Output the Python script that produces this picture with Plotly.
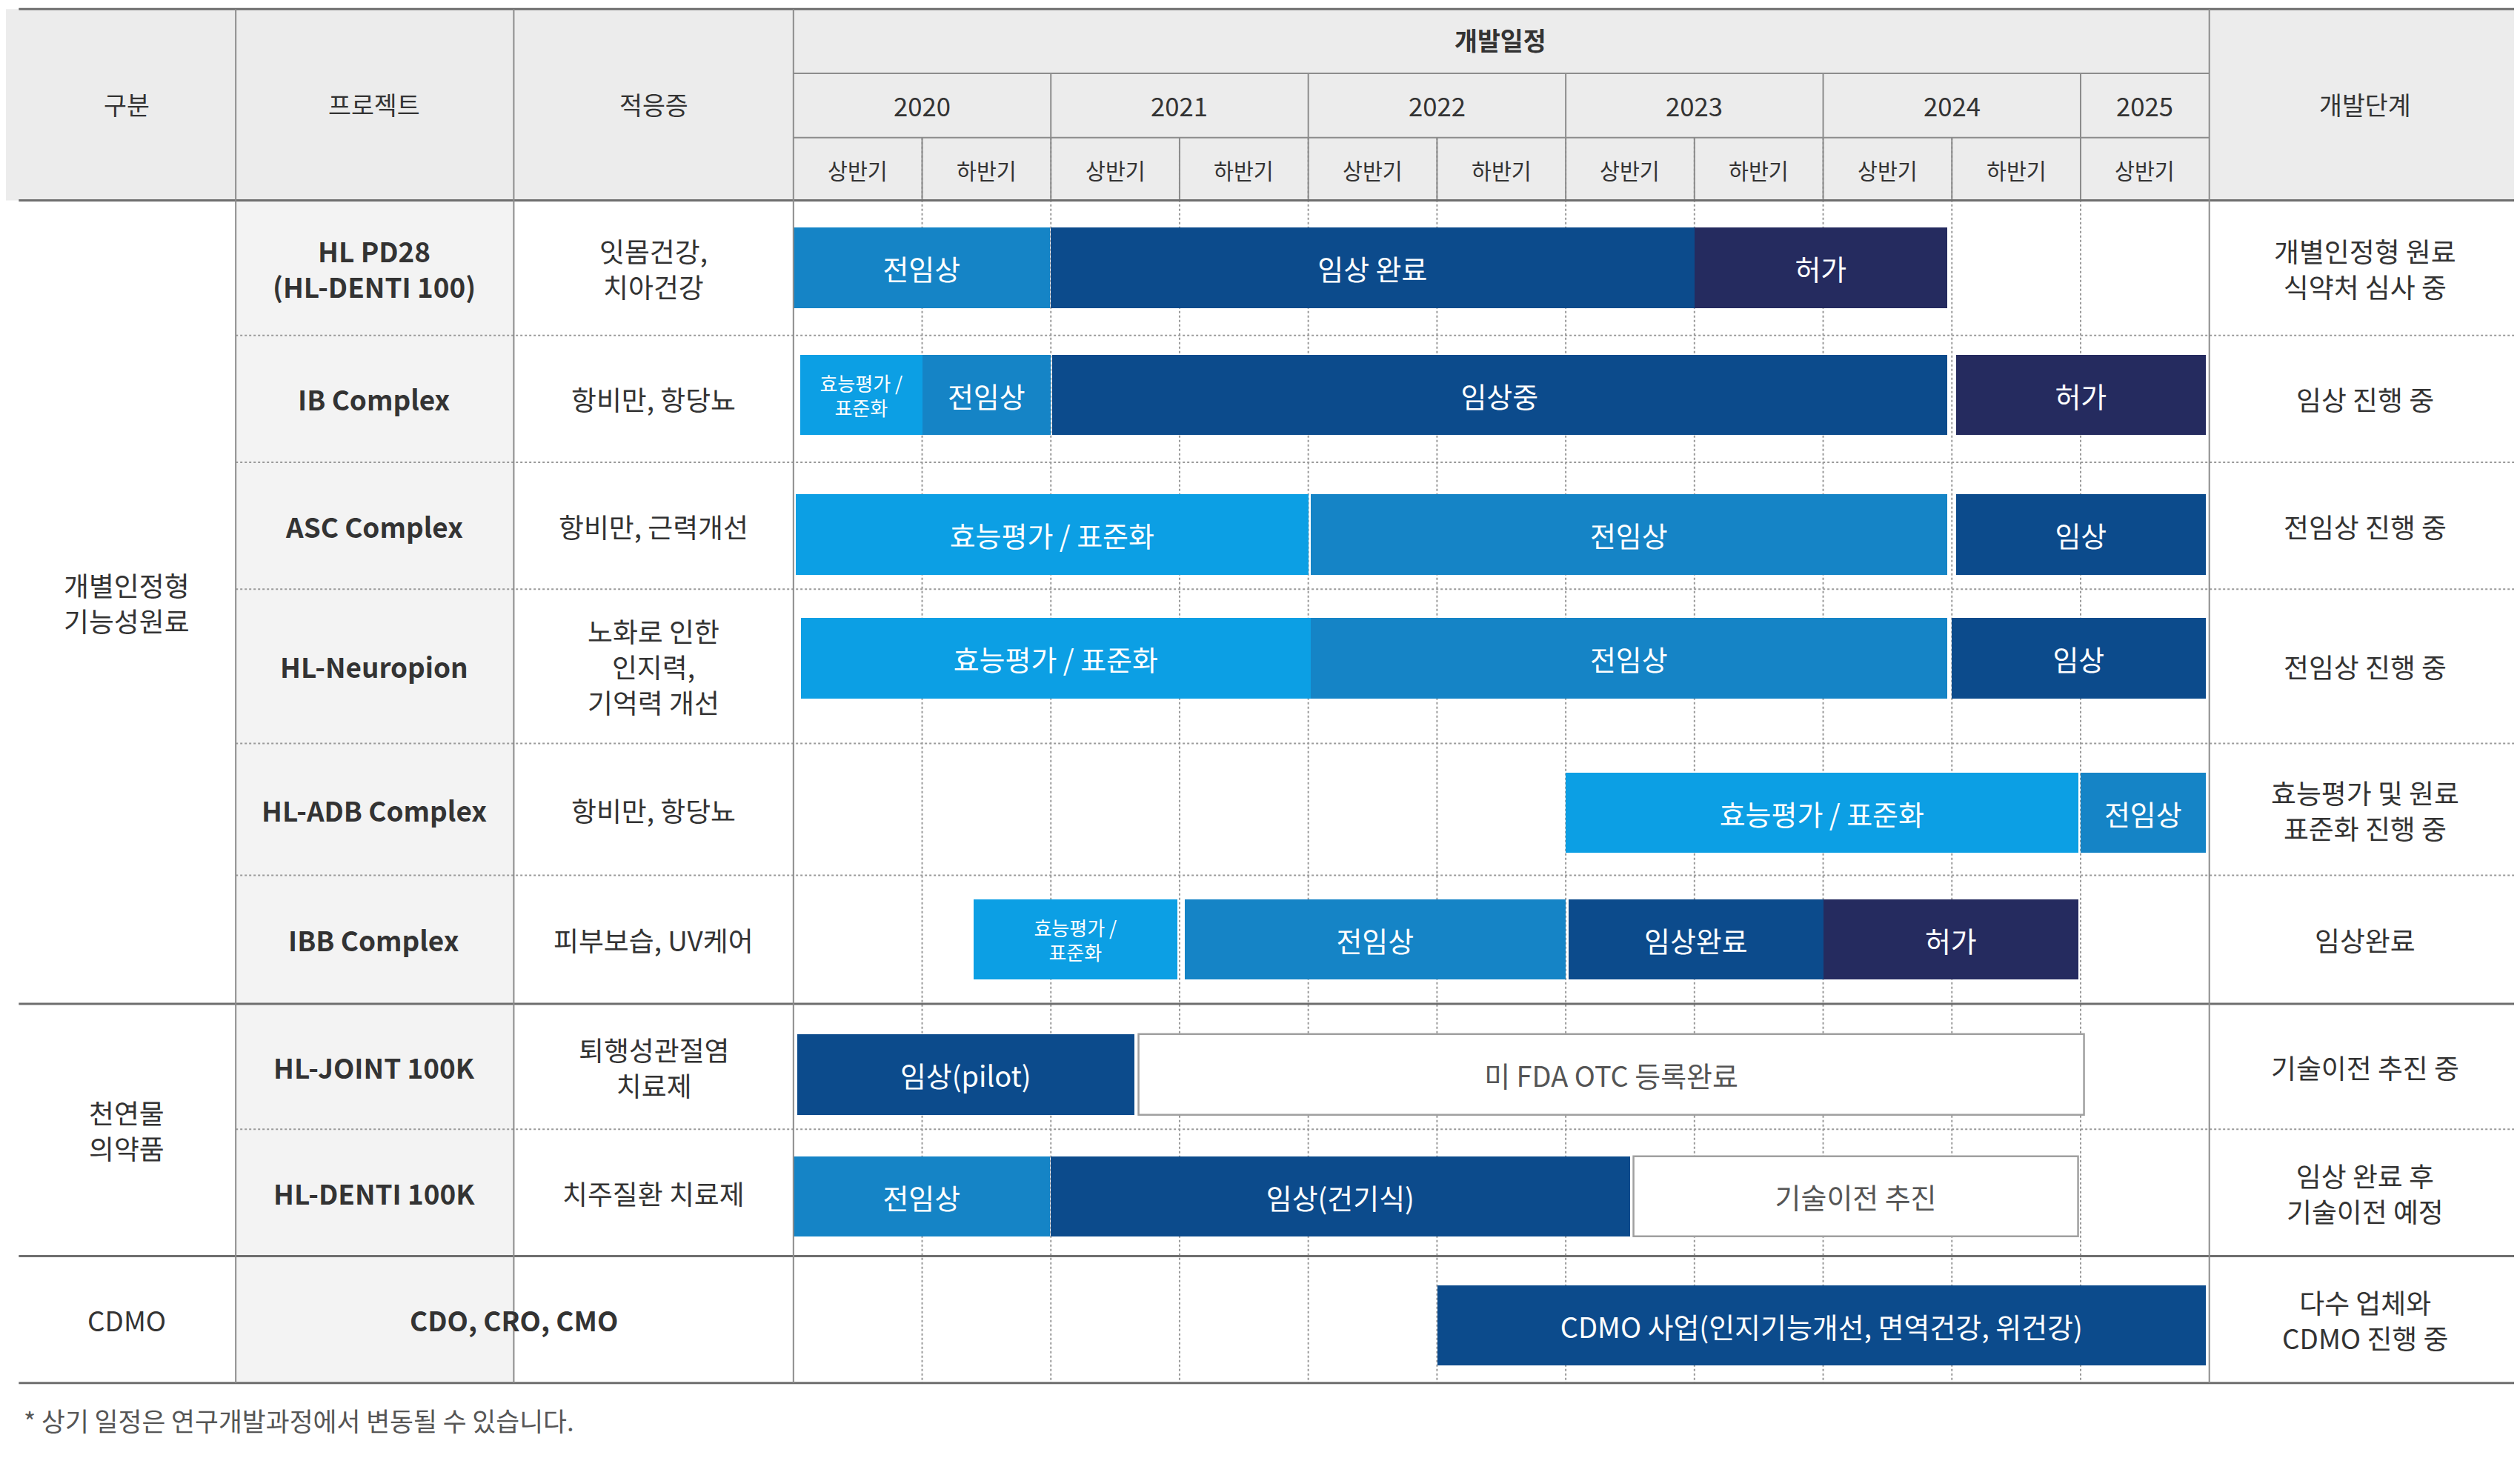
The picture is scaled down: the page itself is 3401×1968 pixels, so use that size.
import plotly.graph_objects as go

W, H = 3401, 1968
S = W / 1568.0
PH = H / S  # ~907

groups = ["개별인정형<br>기능성원료", "천연물<br>의약품", "CDMO"]
group_rows = [(121, 621), (621, 778), (778, 857)]
projects = ["HL PD28<br>(HL-DENTI 100)", "IB Complex", "ASC Complex", "HL-Neuropion",
            "HL-ADB Complex", "IBB Complex", "HL-JOINT 100K", "HL-DENTI 100K", "CDO, CRO, CMO"]
indications = ["잇몸건강,<br>치아건강", "항비만, 항당뇨", "항비만, 근력개선", "노화로 인한<br>인지력,<br>기억력 개선",
               "항비만, 항당뇨", "피부보습, UV케어", "퇴행성관절염<br>치료제", "치주질환 치료제", ""]
stages = ["개별인정형 원료<br>식약처 심사 중", "임상 진행 중", "전임상 진행 중", "전임상 진행 중",
          "효능평가 및 원료<br>표준화 진행 중", "임상완료", "기술이전 추진 중", "임상 완료 후<br>기술이전 예정",
          "다수 업체와<br>CDMO 진행 중"]
row_edges = [121, 205, 284, 363, 459, 541, 621, 699, 778, 857]
bar_centers = [163, 242, 329, 406, 502, 581, 665, 741, 821]
years = ["2020", "2021", "2022", "2023", "2024", "2025"]
halves = ["상반기", "하반기"] * 5 + ["상반기"]

# bars: row index, start (half-year units), end, label, kind
bar_row = [0, 0, 0, 1, 1, 1, 1, 2, 2, 2, 3, 3, 3, 4, 4, 5, 5, 5, 5, 6, 6, 7, 7, 7, 8]
bar_start = [0, 2, 7.0, 0.05, 1.0, 2.01, 9.03, 0.02, 4.02, 9.03, 0.06, 4.02, 9.0, 6.0, 10.0,
             1.4, 3.04, 6.02, 8.0, 0.03, 2.68, 0, 2.0, 6.53, 5.0]
bar_end = [1.99, 7.0, 8.96, 1.0, 2.0, 8.96, 10.97, 4.0, 8.96, 10.97, 4.02, 8.96, 10.97, 9.98, 10.97,
           2.98, 6.0, 8.0, 9.98, 2.65, 10.03, 1.99, 6.5, 9.98, 10.97]
bar_label = ["전임상", "임상 완료", "허가", "효능평가 /<br>표준화", "전임상", "임상중", "허가",
             "효능평가 / 표준화", "전임상", "임상", "효능평가 / 표준화", "전임상", "임상",
             "효능평가 / 표준화", "전임상", "효능평가 /<br>표준화", "전임상", "임상완료", "허가",
             "임상(pilot)", "미 FDA OTC 등록완료", "전임상", "임상(건기식)", "기술이전 추진",
             "CDMO 사업(인지기능개선, 면역건강, 위건강)"]
bar_kind = ["mid", "dark", "navy", "light", "mid", "dark", "navy", "light", "mid", "dark",
            "light", "mid", "dark", "light", "mid", "light", "mid", "dark", "navy",
            "dark", "white", "mid", "dark", "white", "dark"]

colors = {"light": "#0c9fe4", "mid": "#1584c6", "dark": "#0c4b8c", "navy": "#252b5f", "white": "#ffffff"}
FONT = "Noto Sans CJK KR"

TX0, TX1 = 490, 1371
fig = go.Figure()

for kind in ["light", "mid", "dark", "navy", "white"]:
    idx = [i for i, k in enumerate(bar_kind) if k == kind]
    if not idx:
        continue
    small = [("<br>" in bar_label[i]) for i in idx]
    fig.add_trace(go.Bar(
        orientation="h",
        y=[bar_centers[bar_row[i]] for i in idx],
        x=[bar_end[i] - bar_start[i] for i in idx],
        base=[bar_start[i] for i in idx],
        width=50,
        text=[bar_label[i] for i in idx],
        textposition="inside", insidetextanchor="middle", constraintext="none",
        textfont=dict(family=FONT, size=[12 * S if s else 17.5 * S for s in small],
                      color="#555555" if kind == "white" else "white"),
        marker=dict(color=colors[kind],
                    line=dict(color="#a0a0a0" if kind == "white" else colors[kind],
                              width=2.5 if kind == "white" else 0)),
        hoverinfo="skip", showlegend=False))

shapes = []
def px(x):
    return x / 1568.0

# header background
shapes.append(dict(type="rect", xref="paper", yref="y", x0=0, x1=1, y0=2, y1=121,
                   fillcolor="#ececec", line_width=0, layer="below"))
# project column shaded
shapes.append(dict(type="rect", xref="paper", yref="y", x0=px(143), x1=px(316), y0=121, y1=857,
                   fillcolor="#f3f3f3", line_width=0, layer="below"))
# dotted half-year grid in data
for k in range(1, 11):
    shapes.append(dict(type="line", xref="x", yref="y", x0=k, x1=k, y0=82, y1=857,
                       line=dict(color="#9a9a9a", width=2, dash="dot"), layer="below"))
# horizontal header lines
for y, x0, x1 in [(42, TX0, TX1), (82, TX0, TX1)]:
    shapes.append(dict(type="line", xref="paper", yref="y", x0=px(x0), x1=px(x1), y0=y, y1=y,
                       line=dict(color="#8c8c8c", width=2)))
# year vertical lines in header
for k in [2, 4, 6, 8, 10]:
    shapes.append(dict(type="line", xref="x", yref="y", x0=k, x1=k, y0=42, y1=82,
                       line=dict(color="#8c8c8c", width=2)))
    shapes.append(dict(type="line", xref="x", yref="y", x0=k, x1=k, y0=82, y1=121,
                       line=dict(color="#8c8c8c", width=2)))
for k in [1, 3, 5, 7, 9]:
    shapes.append(dict(type="line", xref="x", yref="y", x0=k, x1=k, y0=82, y1=121,
                       line=dict(color="#8c8c8c", width=2)))
# row separators (dotted thin)
for y in row_edges[1:-1]:
    if y in (621, 778):
        continue
    shapes.append(dict(type="line", xref="paper", yref="y", x0=px(143), x1=1, y0=y, y1=y,
                       line=dict(color="#9a9a9a", width=2, dash="dot")))
# group separators (solid)
for y in [2, 121, 621, 778, 857]:
    shapes.append(dict(type="line", xref="paper", yref="y", x0=px(8), x1=1, y0=y, y1=y,
                       line=dict(color="#6e6e6e", width=3)))
# column separators
for x in [143, 316, 490, 1371]:
    shapes.append(dict(type="line", xref="paper", yref="y", x0=px(x), x1=px(x), y0=2, y1=857,
                       line=dict(color="#8c8c8c", width=2)))

ann = []
def text(x, y, t, size=17, bold=False, color="#333333"):
    ann.append(dict(xref="paper", yref="y", x=px(x), y=y, text=f"<b>{t}</b>" if bold else t,
                    showarrow=False, font=dict(family=FONT, size=size * S, color=color),
                    xanchor="center", yanchor="middle", align="center"))

text(75, 61, "구분", 15.5)
text(229, 61, "프로젝트", 15.5)
text(403, 61, "적응증", 15.5)
text(930, 21, "개발일정", 15.5, bold=True)
text(1468, 61, "개발단계", 15.5)
for i, yname in enumerate(years):
    ann.append(dict(xref="x", yref="y", x=2 * i + (1 if i < 5 else 0.5), y=62, text=yname, showarrow=False,
                    font=dict(family=FONT, size=16 * S, color="#333333")))
for i, h in enumerate(halves):
    ann.append(dict(xref="x", yref="y", x=i + 0.5, y=102, text=h, showarrow=False,
                    font=dict(family=FONT, size=13.5 * S, color="#333333")))
for g, (a, b) in zip(groups, group_rows):
    text(75, (a + b) / 2, g, 17)
for i in range(9):
    yc = (row_edges[i] + row_edges[i + 1]) / 2
    if i == 8:
        text(316, yc, projects[i], 17, bold=True)
    else:
        text(229, yc, projects[i], 17, bold=True)
        text(403, yc, indications[i], 17)
    text(1468, yc, stages[i], 17)
ann.append(dict(xref="paper", yref="y", x=px(10), y=880, text="* 상기 일정은 연구개발과정에서 변동될 수 있습니다.",
                showarrow=False, xanchor="left", font=dict(family=FONT, size=16 * S, color="#555555")))

fig.update_layout(
    width=W, height=H, margin=dict(l=0, r=0, t=0, b=0),
    paper_bgcolor="white", plot_bgcolor="rgba(0,0,0,0)",
    barmode="overlay", bargap=0,
    xaxis=dict(domain=[px(TX0), px(TX1)], range=[0, 11], visible=False, fixedrange=True),
    yaxis=dict(domain=[0, 1], range=[PH, 0], visible=False, fixedrange=True),
    shapes=shapes, annotations=ann,
)
fig.write_html("out.html")
